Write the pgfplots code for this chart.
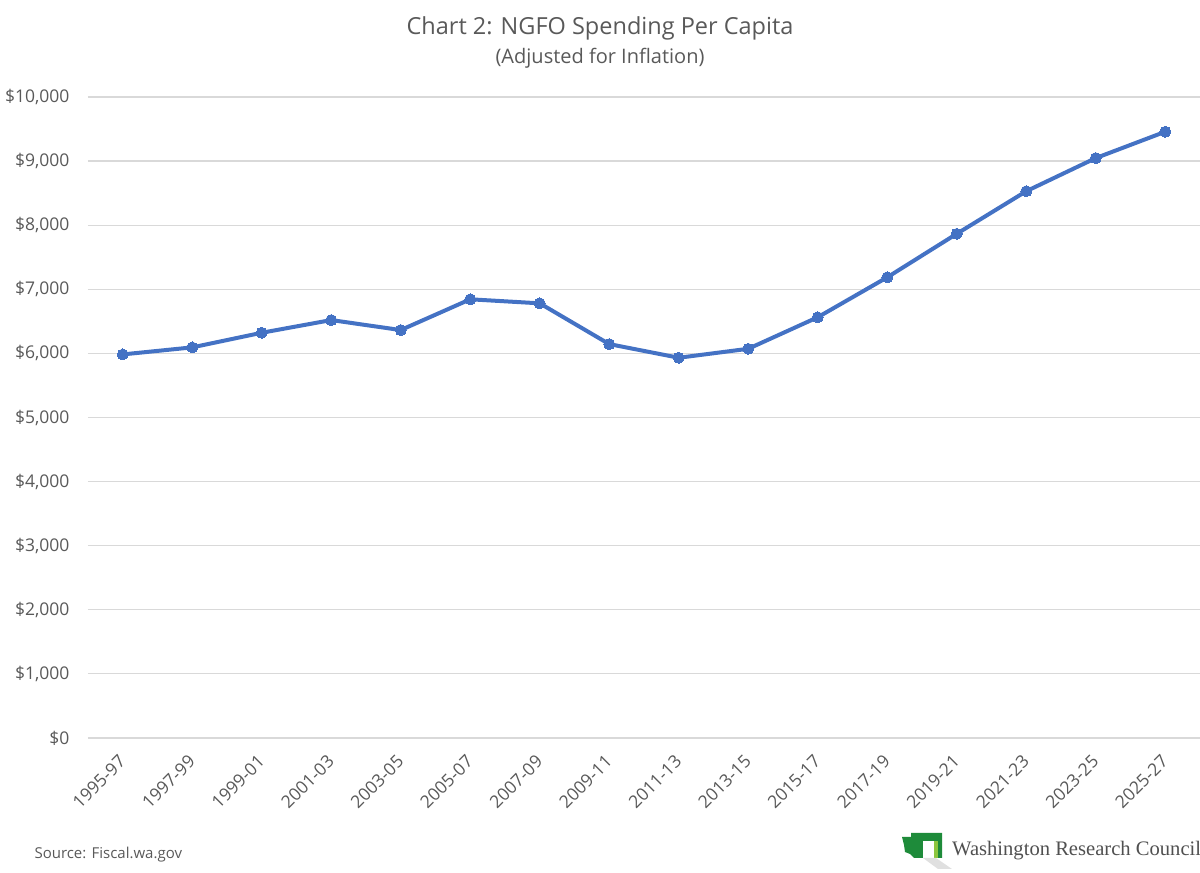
\documentclass[border=0pt]{standalone}
\usepackage{pgfplots}
\pgfplotsset{compat=1.18}
\usepackage{fontspec}
\setmainfont{Open Sans}
\newfontfamily\logofont{Liberation Serif}
\definecolor{txt}{HTML}{595959}
\definecolor{linec}{HTML}{4472C4}
\definecolor{gridc}{HTML}{D9D9D9}
\definecolor{wagreen}{HTML}{1E8B3A}
\definecolor{walight}{HTML}{8DC63F}
\begin{document}
\begin{tikzpicture}[x=1pt,y=1pt]
\useasboundingbox (0,0) rectangle (1200,873);
\begin{axis}[
  at={(88pt,135pt)}, anchor=south west,
  scale only axis, width=1112pt, height=641pt,
  xmin=-0.5, xmax=15.5, ymin=0, ymax=10000,
  axis line style={draw=none},
  ytick={0,1000,...,10000},
  scaled y ticks=false,
  xtick={0,...,15},
  xticklabels={1995-97,1997-99,1999-01,2001-03,2003-05,2005-07,2007-09,2009-11,2011-13,2013-15,2015-17,2017-19,2019-21,2021-23,2023-25,2025-27},
  major tick length=0pt,
  xmajorgrids=false, ymajorgrids=true,
  major grid style={draw=gridc, line width=1.2pt},
  yticklabel={\$\pgfmathprintnumber{\tick}},
  /pgf/number format/.cd, assume math mode=true, fixed, precision=0, 1000 sep={,},
  /pgfplots/.cd,
  yticklabel style={font=\fontsize{17.5}{20}\selectfont, text=txt, xshift=-15pt},
  xticklabel style={font=\fontsize{17.5}{20}\selectfont, text=txt, xshift=2pt, yshift=-18pt, rotate=45, anchor=east},
  clip=false,
]
\addplot[linec, line width=4pt, mark=*, mark size=5.5pt, mark options={fill=linec, draw=linec, line width=0pt}]
coordinates {
(0,5984) (1,6094) (2,6322) (3,6520) (4,6364) (5,6844) (6,6781) (7,6145)
(8,5932) (9,6072) (10,6564) (11,7187) (12,7866) (13,8530) (14,9047) (15,9458)
};
\end{axis}
\node[text=txt, font=\fontsize{23.5}{28}\selectfont] at (600,845) {Chart 2: NGFO Spending Per Capita};
\node[text=txt, font=\fontsize{20}{24}\selectfont] at (600,815) {(Adjusted for Inflation)};
\node[text=txt, font=\fontsize{15}{18}\selectfont, anchor=west] at (31,18) {Source: Fiscal.wa.gov};
% logo
\fill[wagreen] (902,36) -- (911,36) -- (911,40) -- (942,40) -- (942,15) -- (914,15) -- (910,19) -- (905,21) -- (904,28) -- cycle;
\fill[white] (923,15) rectangle (936,32);
\fill[walight] (934,15) rectangle (938,32);
\fill[black!12] (923,15) -- (936,15) -- (952,4) -- (938,4) -- cycle;
\node[text=txt!90!black, font=\logofont\fontsize{20.6}{24}\selectfont, anchor=west, inner sep=0pt] at (952,22) {Washington Research Council};
\end{tikzpicture}
\end{document}
